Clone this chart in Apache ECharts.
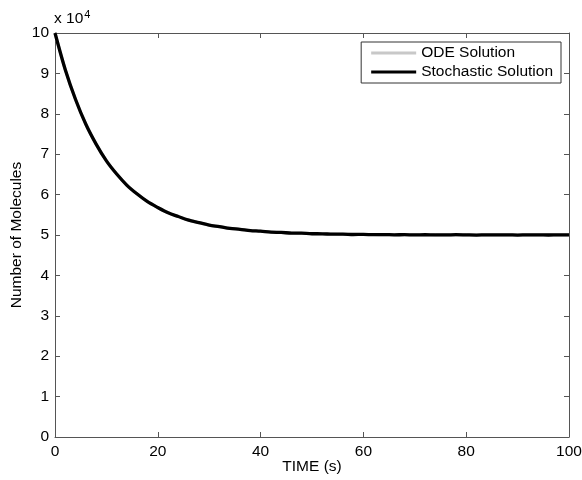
<!DOCTYPE html>
<html>
<head>
<meta charset="utf-8">
<script src="https://cdn.jsdelivr.net/npm/echarts@6/dist/echarts.min.js"></script>
<style>html,body{margin:0;padding:0;background:#fff}#c{width:582px;height:480px}</style>
</head>
<body>
<div id="c"></div>
<script>
var timeS = [0,2,4,6,8,10,12,14,16,18,20,22,24,26,28,30,32,34,36,38,40,42,44,46,48,50,52,54,56,58,60,62,64,66,68,70,72,74,76,78,80,82,84,86,88,90,92,94,96,98,100];
var odeValues = [100000,90940,83520,77440,72470,68390,65060,62330,60100,58270,56770,55540,54540,53710,53040,52490,52040,51670,51370,51120,50920,50750,50610,50500,50410,50340,50280,50230,50180,50150,50120,50100,50080,50070,50060,50050,50040,50030,50020,50020,50020,50010,50010,50010,50010,50010,50000,50000,50000,50000,50000];
var stochasticValues = [100000,90910,83550,77410,72500,68350,65090,62300,60130,58240,56800,55500,54570,53680,53070,52450,52080,51640,51400,51090,50950,50720,50640,50470,50440,50310,50300,50200,50210,50120,50150,50080,50110,50050,50080,50010,50060,50040,50010,50070,50030,49990,50050,50010,50040,49990,50050,50020,50000,50030,50010];
var yTicks = [0,1,2,3,4,5,6,7,8,9,10];

function pairs(xs, ys){ return xs.map(function(x,i){ return [x, ys[i]]; }); }

var font = "'Liberation Sans', Arial, Helvetica, sans-serif";
var fs = 15.5;
var axisColor = '#555';
var chart = echarts.init(document.getElementById('c'));
chart.setOption({
  animation: false,
  textStyle: { fontFamily: font },
  grid: { left: 55, right: 13, top: 33, bottom: 43, containLabel: false, outerBoundsMode: 'none' },
  legend: {
    orient: 'vertical',
    right: 21, top: 42,
    backgroundColor: '#fff',
    borderColor: '#333', borderWidth: 1, borderRadius: 0,
    padding: [3, 8, 3, 10],
    icon: 'rect',
    itemWidth: 45, itemHeight: 3, itemGap: 3,
    textStyle: { fontSize: fs, color: '#000', fontFamily: font, lineHeight: 16 },
    data: ['ODE Solution', 'Stochastic Solution']
  },
  graphic: [{
    type: 'text', left: 54, top: 9,
    style: {
      text: '{a|x 10}{b|4}',
      rich: {
        a: { fontSize: fs, fontFamily: font, fill: '#000' },
        b: { fontSize: 11, fontFamily: font, fill: '#000', verticalAlign: 'top', padding: [0,0,9,1] }
      }
    }
  }],
  xAxis: [{
    type: 'value', min: 0, max: 100, interval: 20,
    name: 'TIME (s)', nameLocation: 'middle', nameGap: 22, nameMoveOverlap: false,
    nameTextStyle: { fontSize: fs, color: '#000', fontFamily: font },
    axisLine: { show: true, onZero: false, lineStyle: { color: axisColor, width: 1 } },
    axisTick: { show: true, inside: true, length: 5, lineStyle: { color: axisColor } },
    axisLabel: { fontSize: fs, color: '#000', margin: 7, fontFamily: font },
    splitLine: { show: false }
  }, {
    type: 'value', min: 0, max: 100, interval: 20, position: 'top',
    axisLine: { show: true, onZero: false, lineStyle: { color: axisColor, width: 1 } },
    axisTick: { show: true, inside: true, length: 5, lineStyle: { color: axisColor } },
    axisLabel: { show: false }, splitLine: { show: false }
  }],
  yAxis: [{
    type: 'value', min: 0, max: 100000, interval: 10000,
    name: 'Number of Molecules', nameLocation: 'middle', nameGap: 30, nameRotate: 90, nameMoveOverlap: false,
    nameTextStyle: { fontSize: fs, color: '#000', fontFamily: font },
    axisLine: { show: true, onZero: false, lineStyle: { color: axisColor, width: 1 } },
    axisTick: { show: true, inside: true, length: 5, lineStyle: { color: axisColor } },
    axisLabel: { fontSize: fs, color: '#000', margin: 6, fontFamily: font,
      formatter: function(v){ return String(yTicks[Math.round(v/10000)]); } },
    splitLine: { show: false }
  }, {
    type: 'value', min: 0, max: 100000, interval: 10000, position: 'right',
    axisLine: { show: true, onZero: false, lineStyle: { color: axisColor, width: 1 } },
    axisTick: { show: true, inside: true, length: 5, lineStyle: { color: axisColor } },
    axisLabel: { show: false }, splitLine: { show: false }
  }],
  series: [{
    name: 'ODE Solution', type: 'line', symbol: 'none', smooth: 0.3,
    color: '#c8c8c8',
    lineStyle: { color: '#c8c8c8', width: 3 },
    data: pairs(timeS, odeValues)
  }, {
    name: 'Stochastic Solution', type: 'line', symbol: 'none', smooth: 0.3,
    color: '#000',
    lineStyle: { color: '#000', width: 3.3 },
    data: pairs(timeS, stochasticValues)
  }]
});
</script>
</body>
</html>
